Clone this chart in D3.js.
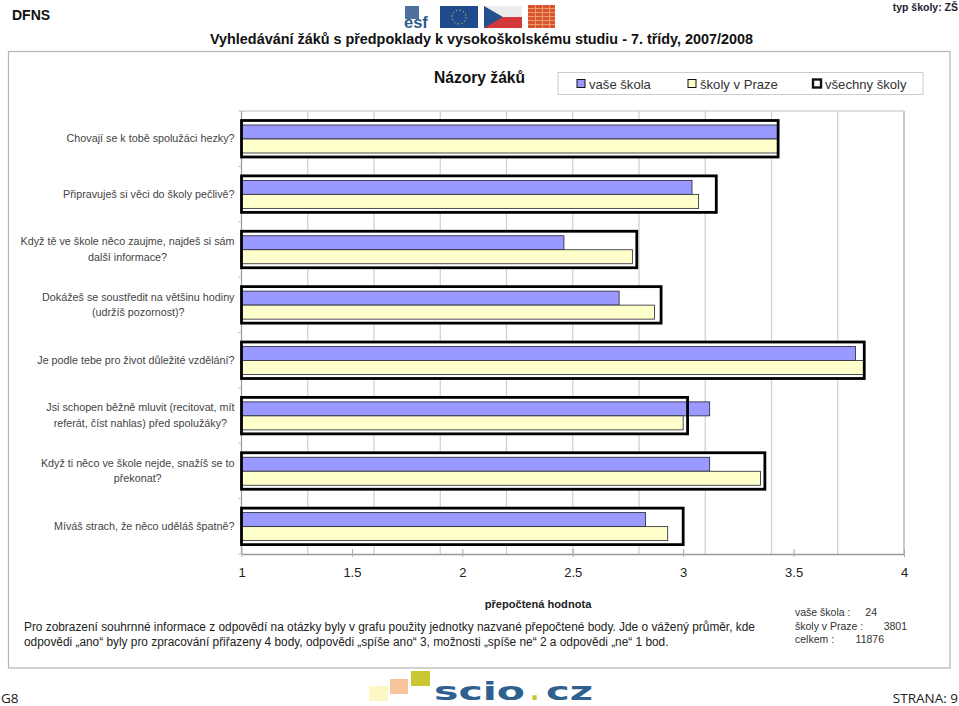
<!DOCTYPE html>
<html><head><meta charset="utf-8">
<script src="https://cdnjs.cloudflare.com/ajax/libs/d3/7.8.5/d3.min.js"></script>
<style>html,body{margin:0;padding:0;background:#fff}svg{display:block}text{font-family:"Liberation Sans",Arial,sans-serif}</style>
</head><body><svg id="c" width="959" height="706"></svg>
<script>
const questions=[
 ["Chovají se k tobě spolužáci hezky?"],
 ["Připravuješ si věci do školy pečlivě?"],
 ["Když tě ve škole něco zaujme, najdeš si sám","další informace?"],
 ["Dokážeš se soustředit na většinu hodiny","(udržíš pozornost)?"],
 ["Je podle tebe pro život důležité vzdělání?"],
 ["Jsi schopen běžně mluvit (recitovat, mít","referát, číst nahlas) před spolužáky?"],
 ["Když ti něco ve škole nejde, snažíš se to","překonat?"],
 ["Míváš strach, že něco uděláš špatně?"]];
const vaseSkola=[3.43,3.04,2.46,2.71,3.78,3.12,3.12,2.83];
const skolyPraha=[3.43,3.07,2.77,2.87,3.82,3.00,3.35,2.93];
const vsechnySkoly=[3.43,3.15,2.79,2.90,3.82,3.02,3.37,3.00];
const tickValues=[1,1.5,2,2.5,3,3.5,4];
const gridValues=[1.3,1.6,1.9,2.2,2.5,2.8,3.1,3.4,3.7,4];
const legendItems=["vaše škola","školy v Praze","všechny školy"];
const note=["Pro zobrazení souhrnné informace z odpovědí na otázky byly v grafu použity jednotky nazvané přepočtené body. Jde o vážený průměr, kde","odpovědi „ano“ byly pro zpracování přiřazeny 4 body, odpovědi „spíše ano“ 3, možnosti „spíše ne“ 2 a odpovědi „ne“ 1 bod."];
const counts=[["vaše škola :","24",877],["školy v Praze :","3801",907],["celkem :","11876",884]];

const svg=d3.select("#c");
const txt=(x,y,s,size,o={})=>svg.append("text").attr("x",x).attr("y",y).text(s)
  .attr("font-size",size).attr("fill",o.fill||"#111").attr("font-weight",o.bold?"bold":"normal").attr("text-anchor",o.anchor||"start");
const box=(x,y,w,h,f)=>svg.append("rect").attr("x",x).attr("y",y).attr("width",w).attr("height",h).attr("fill",f);

// header
txt(12,20,"DFNS",14,{bold:1});
txt(210,44,"Vyhledávání žáků s předpoklady k vysokoškolskému studiu - 7. třídy, 2007/2008",14.4,{bold:1});
txt(958,11,"typ školy: ZŠ",10.5,{bold:1,anchor:"end",fill:"#223"});
// logos
box(405,6,14,13,"#4f6f9c");
txt(404,28,"esf",16.5,{bold:1,fill:"#2f5b8e"});
box(440,6,38,22,"#1f4a8c");
svg.append("circle").attr("cx",459).attr("cy",17).attr("r",7).attr("fill","none").attr("stroke","#d8c860").attr("stroke-dasharray","1.5 2.2");
box(484,6,38,11,"#ececec");
box(484,17,38,11,"#d23a3a");
svg.append("path").attr("d","M484 6L503 17L484 28Z").attr("fill","#24508f");
box(528,5,27,23,"#d9552c");
d3.range(5).forEach(i=>box(528,8+i*4,27,1,"#eb9a70"));
d3.range(3).forEach(i=>box(535+i*7,5,1,23,"#eb9a70"));

// panel
svg.append("rect").attr("x",8.5).attr("y",51.5).attr("width",941.5).attr("height",616.5).attr("fill","#fff").attr("stroke","#b4b4b4").attr("stroke-width",1.2);
txt(434,83,"Názory žáků",15.6,{bold:1});

// legend
svg.append("rect").attr("x",558).attr("y",72.5).attr("width",365).attr("height",22).attr("fill","#fff").attr("stroke","#ccc");
const legX=[577,688,813], legFill=["#9999ff","#ffffcc","#fff"];
legendItems.forEach((s,i)=>{
  svg.append("rect").attr("x",legX[i]).attr("y",79.5).attr("width",8).attr("height",8).attr("fill",legFill[i]).attr("stroke","#111").attr("stroke-width",i==2?2.4:1);
  txt(legX[i]+12,88.5,s,13.1,{fill:"#333"});
});

// scales
const m={l:241.5,r:904,t:111,b:554};
const x=d3.scaleLinear().domain([1,4]).range([m.l,m.r]);
const y=d3.scaleBand().domain(d3.range(questions.length)).range([m.t,m.b]);
svg.append("g").selectAll("line").data(gridValues).join("line")
 .attr("x1",d=>x(d)).attr("x2",d=>x(d)).attr("y1",m.t).attr("y2",m.b)
 .attr("stroke",d=>d===4?"#a8a8a8":"#cfcfcf").attr("stroke-width",1.2);
svg.append("line").attr("x1",m.l).attr("x2",m.r).attr("y1",m.t).attr("y2",m.t).attr("stroke","#bdbdbd").attr("stroke-width",1.2);
svg.append("line").attr("x1",m.l).attr("x2",m.l).attr("y1",m.t).attr("y2",m.b).attr("stroke","#999").attr("stroke-width",1.2);

// band tick marks
svg.append("g").selectAll("line").data(d3.range(questions.length+1)).join("line")
 .attr("x1",m.l-3).attr("x2",m.l).attr("y1",i=>m.t+i*y.step()).attr("y2",i=>m.t+i*y.step())
 .attr("stroke","#bbb");

// bars
const bands=svg.append("g").selectAll("g").data(questions).join("g").attr("transform",(d,i)=>`translate(0,${y(i)})`);
bands.append("rect").attr("x",m.l).attr("y",9.5).attr("height",36.5).attr("width",(d,i)=>x(vsechnySkoly[i])-m.l).attr("fill","#fff");
bands.append("rect").attr("x",m.l).attr("y",14).attr("height",14).attr("width",(d,i)=>x(vaseSkola[i])-m.l).attr("fill","#9999ff").attr("stroke","#223").attr("stroke-width",.8);
bands.append("rect").attr("x",m.l).attr("y",28).attr("height",14).attr("width",(d,i)=>x(skolyPraha[i])-m.l).attr("fill","#ffffcc").attr("stroke","#223").attr("stroke-width",.8);
bands.append("rect").attr("x",m.l).attr("y",9.5).attr("height",36.5).attr("width",(d,i)=>x(vsechnySkoly[i])-m.l).attr("fill","none").attr("stroke","#000").attr("stroke-width",2.8);
// category labels: block right-aligned at 234, lines centred within it
bands.each(function(d){
  const g=d3.select(this), mid=27.7, lh=15.5;
  const y0=mid+3.5-(d.length-1)*lh/2;
  const ts=d.map((s,k)=>g.append("text").attr("y",y0+k*lh).attr("text-anchor","middle").attr("font-size",10.75).attr("fill","#444").text(s));
  const w=d3.max(ts,t=>t.node().getComputedTextLength());
  ts.forEach(t=>t.attr("x",234.5-w/2));
});

// x axis
const axis=d3.axisBottom(x).tickValues(tickValues).tickFormat(d3.format("~g")).tickSize(5).tickSizeOuter(0);
const ag=svg.append("g").attr("transform",`translate(0,${m.b})`).call(axis);
ag.select(".domain").attr("stroke","#999").attr("stroke-width",1.4);
ag.selectAll(".tick line").attr("stroke","#aaa").attr("y1",-5).attr("y2",3);
ag.selectAll(".tick text").attr("font-size",13).attr("fill","#222").attr("y",23).attr("dy",0).style("font-family",'"Liberation Sans"');

// footer text
txt(538,608,"přepočtená hodnota",11.1,{bold:1,anchor:"middle",fill:"#222"});
note.forEach((s,i)=>txt(24,631+i*15,s,11.87,{fill:"#222"}));
counts.forEach((c,i)=>{
  txt(795,616+i*13.5,c[0],10.5,{fill:"#333"});
  txt(c[2],616+i*13.5,c[1],10.5,{fill:"#333",anchor:"end"});
});
txt(1,703,"G8",13.5,{fill:"#222"}).style("font-family","'Open Sans'");
txt(958,703,"STRANA: 9",13.5,{fill:"#222",anchor:"end"}).style("font-family","'Open Sans'");

// scio logo
[[369,686,19,15,"#fdf7c4"],[390,679,18,15,"#f8c59a"],[411,671,19,15,"#c9c832"]].forEach(r=>box(r[0],r[1],r[2],r[3],r[4]));
const logo=(x0,s,len,f)=>{const t=txt(x0,700,s,24,{bold:1,fill:f}).style("font-family","'DejaVu Sans'");
  if(len)t.attr("textLength",len).attr("lengthAdjust","spacingAndGlyphs");};
logo(434,"scio",91,"#2f6190");
logo(530,".",0,"#c9c832");
logo(546,"cz",47,"#2f6190");
</script></body></html>
